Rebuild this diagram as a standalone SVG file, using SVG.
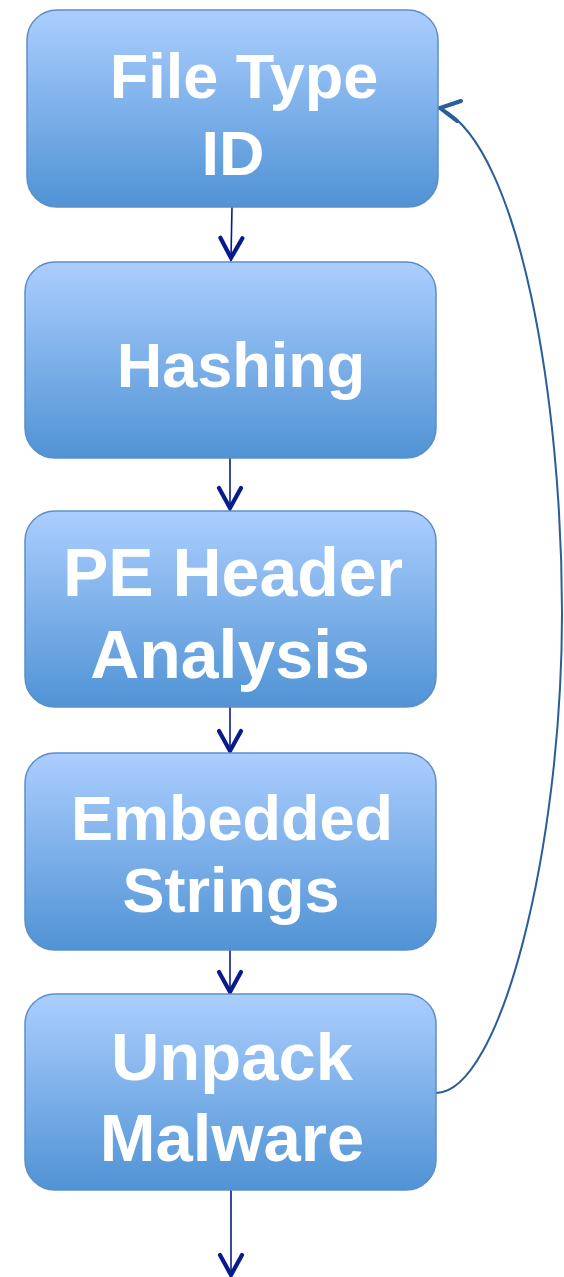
<svg xmlns="http://www.w3.org/2000/svg" width="564" height="1277" viewBox="0 0 564 1277">
<defs>
<linearGradient id="g" x1="0" y1="0" x2="0" y2="1">
<stop offset="0" stop-color="#abcefe"/>
<stop offset="1" stop-color="#5093d5"/>
</linearGradient>
<marker id="ah" markerUnits="userSpaceOnUse" markerWidth="30" markerHeight="30" viewBox="-15 -25 30 30" refX="0" refY="0" orient="auto-start-reverse" overflow="visible">
<path d="M-20,-11 L0,0 L-20,11" fill="none" stroke="#071b8c" stroke-width="4.2" stroke-linecap="round" stroke-linejoin="miter"/>
</marker>
</defs>
<style>
.box{fill:url(#g);stroke:#5d8ec8;stroke-width:1.5}
.t{font-family:"Liberation Sans",Arial,sans-serif;font-weight:bold;fill:#ffffff;text-anchor:middle}
.c{fill:none;stroke:#071b8c;stroke-width:1.6}
</style>
<rect width="564" height="1277" fill="#ffffff"/>
<g id="connectors">
<path class="c" d="M232,207 L231,258" marker-end="url(#ah)"/>
<path class="c" d="M230,458 L230,508" marker-end="url(#ah)"/>
<path class="c" d="M230,707 L230,751" marker-end="url(#ah)"/>
<path class="c" d="M230,950 L230,992" marker-end="url(#ah)"/>
<path class="c" d="M231,1190 L231,1275" marker-end="url(#ah)"/>
<path d="M436,1093 C500,1093 562,850 562,613 C562,400 520,150 442,109" fill="none" stroke="#2a5e98" stroke-width="2"/>
<path d="M461,101 L440,108 L457,121" fill="none" stroke="#2a5e98" stroke-width="4" stroke-linecap="round" stroke-linejoin="miter"/>
</g>
<g id="n1">
<rect class="box" x="27" y="10" width="411" height="197" rx="30"/>
<text class="t" x="244" y="98" font-size="63">File Type</text>
<text class="t" x="233" y="175" font-size="63">ID</text>
</g>
<g id="n2">
<rect class="box" x="25" y="262" width="411" height="196" rx="30"/>
<text class="t" x="241" y="387" font-size="63">Hashing</text>
</g>
<g id="n3">
<rect class="box" x="25" y="511" width="411" height="196" rx="30"/>
<text class="t" x="233" y="596" font-size="68">PE Header</text>
<text class="t" x="230" y="678" font-size="68">Analysis</text>
</g>
<g id="n4">
<rect class="box" x="25" y="753" width="411" height="197" rx="30"/>
<text class="t" x="232" y="840" font-size="63">Embedded</text>
<text class="t" x="231" y="912" font-size="63">Strings</text>
</g>
<g id="n5">
<rect class="box" x="25" y="994" width="411" height="196" rx="30"/>
<text class="t" x="232" y="1080" font-size="67">Unpack</text>
<text class="t" x="232" y="1161" font-size="67">Malware</text>
</g>
</svg>
